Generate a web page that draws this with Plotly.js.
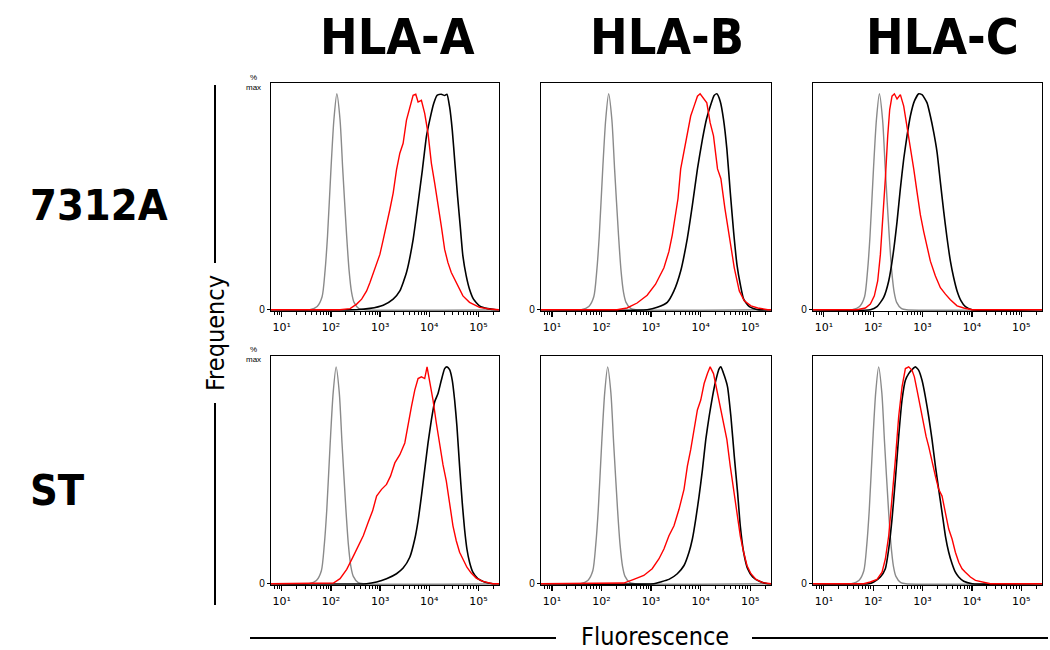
<!DOCTYPE html>
<html>
<head>
<meta charset="utf-8">
<script src="https://cdn.plot.ly/plotly-3.0.1.min.js"></script>
<style>html,body{margin:0;padding:0;background:#fff;}#chart{width:1050px;height:650px;}</style>
</head>
<body>
<div id="chart"></div>
<script>
// ---- labels ----
const columnTitles = ['HLA-A', 'HLA-B', 'HLA-C'];
const rowTitles = ['7312A', 'ST'];
const xTickValues = [1, 2, 3, 4, 5];
const xTickLabels = ['10\u00B9', '10\u00B2', '10\u00B3', '10\u2074', '10\u2075'];
const yAxisName = 'Frequency';
const xAxisName = 'Fluorescence';

// ---- data: x = log10 fluorescence, y = % of max ----
// Row 1 (7312A), HLA-A
const p1GrayX = [0.78, 1.57, 1.72, 1.82, 1.88, 1.93, 2.00, 2.06, 2.12, 2.185, 2.24, 2.32, 2.37, 2.42, 2.47, 2.57, 2.67, 5.42];
const p1GrayY = [0, 0, 1.5, 6, 18, 34, 65, 88, 100, 88, 65, 34, 18, 8, 3.4, 0.5, 0, 0];
const p1BlackX = [0.78, 2.523, 2.794, 3.064, 3.266, 3.402, 3.537, 3.672, 3.773, 3.861, 3.942, 4.01, 4.091, 4.159, 4.246, 4.314, 4.361, 4.415, 4.469, 4.523, 4.577, 4.631, 4.685, 4.753, 4.82, 4.901, 5.023, 5.192, 5.36, 5.42];
const p1BlackY = [0, 0, 0.6, 2.1, 4.9, 8.7, 17.2, 32.5, 49.4, 64.8, 80.1, 87.8, 95.5, 99.3, 99.8, 99.2, 99.8, 93.9, 83.2, 67.8, 52.5, 38.7, 24.9, 15.7, 9.5, 4.9, 1.8, 0.5, 0, 0];
const p1RedX = [0.78, 1.98, 2.185, 2.39, 2.523, 2.625, 2.726, 2.794, 2.861, 2.929, 2.996, 3.064, 3.131, 3.199, 3.266, 3.334, 3.402, 3.469, 3.537, 3.604, 3.672, 3.726, 3.773, 3.841, 3.908, 3.976, 4.044, 4.111, 4.179, 4.246, 4.314, 4.381, 4.449, 4.55, 4.618, 4.686, 4.82, 5.023, 5.226, 5.42];
const p1RedY = [0, 0, 0, 0.5, 2.6, 4.9, 8.7, 12.6, 17.2, 21.8, 25.6, 32.5, 38.7, 46.4, 54.0, 64.8, 72.5, 77.1, 87.8, 93.9, 99.3, 99.8, 96.2, 97.0, 90.9, 81.7, 67.8, 58.6, 49.4, 38.7, 27.9, 21.8, 17.2, 12.6, 9.5, 6.4, 3.4, 1.1, 0.3, 0];

// Row 1 (7312A), HLA-B
const p2GrayX = [0.78, 1.595, 1.745, 1.845, 1.905, 1.955, 2.025, 2.085, 2.145, 2.21, 2.265, 2.345, 2.395, 2.445, 2.495, 2.595, 2.695, 5.42];
const p2GrayY = [0, 0, 1.5, 6, 18, 34, 65, 88, 100, 88, 65, 34, 18, 8, 3.4, 0.5, 0, 0];
const p2BlackX = [0.78, 2.922, 3.125, 3.327, 3.462, 3.598, 3.733, 3.834, 3.936, 4.037, 4.118, 4.206, 4.273, 4.327, 4.395, 4.462, 4.53, 4.598, 4.665, 4.733, 4.8, 4.868, 4.983, 5.152, 5.42];
const p2BlackY = [0, 0, 1.1, 3.4, 8.7, 17.9, 33.2, 48.4, 65.2, 79.0, 88.2, 95.0, 99.2, 100, 96.6, 88.2, 74.4, 54.5, 36.2, 20.9, 11.8, 4.9, 1.4, 0, 0];
const p2RedX = [0.78, 2.314, 2.516, 2.719, 2.922, 3.091, 3.26, 3.361, 3.429, 3.497, 3.544, 3.598, 3.665, 3.733, 3.80, 3.868, 3.936, 3.99, 4.057, 4.125, 4.192, 4.26, 4.341, 4.409, 4.49, 4.577, 4.679, 4.78, 4.881, 5.016, 5.152, 5.354, 5.42];
const p2RedY = [0, 0, 0.8, 3.1, 6.7, 11.8, 19.4, 27.0, 34.7, 43.9, 51.5, 65.2, 72.9, 80.5, 89.7, 94.3, 98.9, 100, 98.1, 95.8, 86.6, 80.5, 65.2, 60.7, 46.9, 34.7, 19.4, 8.7, 4.1, 1.8, 0.8, 0, 0];

// Row 1 (7312A), HLA-C
const p3GrayX = [0.78, 1.575, 1.725, 1.825, 1.885, 1.935, 2.005, 2.065, 2.125, 2.19, 2.245, 2.325, 2.375, 2.425, 2.475, 2.575, 2.675, 5.42];
const p3GrayY = [0, 0, 1.5, 6, 18, 34, 65, 88, 100, 88, 65, 34, 18, 8, 3.4, 0.5, 0, 0];
const p3BlackX = [0.78, 1.942, 2.077, 2.212, 2.314, 2.402, 2.483, 2.55, 2.618, 2.685, 2.753, 2.834, 2.922, 2.989, 3.091, 3.158, 3.226, 3.294, 3.361, 3.429, 3.496, 3.564, 3.631, 3.699, 3.78, 3.868, 4.003, 5.42];
const p3BlackY = [0, 0, 1.4, 5.7, 13.3, 25.5, 40.8, 56.1, 69.8, 80.5, 89.7, 96.6, 100, 99.6, 95.8, 89.7, 82.1, 72.9, 59.1, 45.4, 33.2, 22.5, 14.8, 8.7, 4.1, 1.4, 0, 0];
const p3RedX = [0.78, 1.672, 1.841, 1.942, 2.023, 2.091, 2.145, 2.199, 2.246, 2.294, 2.334, 2.381, 2.429, 2.483, 2.55, 2.618, 2.686, 2.753, 2.821, 2.888, 2.956, 3.023, 3.091, 3.158, 3.26, 3.361, 3.463, 3.564, 3.699, 3.834, 4.003, 5.42];
const p3RedY = [0, 0, 0.8, 2.6, 6.4, 13.3, 25.5, 42.3, 60.7, 80.5, 92.7, 98.9, 100, 97.6, 99.6, 94.3, 85.1, 74.4, 65.2, 54.5, 43.9, 36.2, 28.6, 22.5, 15.6, 10.2, 7.2, 4.6, 1.8, 0.8, 0, 0];

// Row 2 (ST), HLA-A
const p4GrayX = [0.78, 1.555, 1.705, 1.805, 1.865, 1.915, 1.985, 2.045, 2.105, 2.17, 2.225, 2.305, 2.355, 2.405, 2.455, 2.555, 2.655, 5.42];
const p4GrayY = [0, 0, 1.5, 6, 18, 34, 65, 88, 100, 88, 65, 34, 18, 8, 3.4, 0.5, 0, 0];
const p4BlackX = [0.78, 2.726, 2.929, 3.131, 3.334, 3.469, 3.604, 3.706, 3.773, 3.841, 3.908, 3.976, 4.044, 4.111, 4.179, 4.246, 4.314, 4.361, 4.415, 4.469, 4.517, 4.564, 4.618, 4.672, 4.719, 4.767, 4.821, 4.888, 4.989, 5.124, 5.294, 5.42];
const p4BlackY = [0, 0, 0.8, 2.3, 4.6, 7.2, 12.2, 20.6, 29.0, 40.4, 52.6, 64.9, 75.5, 83.9, 87.7, 93.8, 99.2, 100, 98.7, 93.8, 84.7, 72.5, 54.2, 37.4, 25.2, 16.0, 9.9, 5.3, 2.3, 0.8, 0, 0];
const p4RedX = [0.78, 1.915, 2.05, 2.185, 2.321, 2.456, 2.557, 2.658, 2.76, 2.848, 2.929, 3.03, 3.131, 3.212, 3.3, 3.402, 3.503, 3.571, 3.638, 3.706, 3.773, 3.841, 3.908, 3.956, 4.01, 4.077, 4.145, 4.213, 4.28, 4.348, 4.415, 4.483, 4.55, 4.618, 4.685, 4.767, 4.854, 4.956, 5.091, 5.294, 5.42];
const p4RedY = [0, 0, 0.3, 2.3, 6.6, 12.7, 17.2, 22.1, 28.5, 33.6, 40.4, 43.5, 45.8, 49.6, 55.7, 59.5, 64.9, 74.0, 81.6, 89.3, 94.6, 95.4, 94.6, 100, 93.8, 84.7, 74.0, 63.3, 54.9, 47.3, 37.4, 26.7, 19.8, 14.5, 11.4, 7.6, 4.9, 2.6, 1.1, 0, 0];

// Row 2 (ST), HLA-B
const p5GrayX = [0.78, 1.575, 1.725, 1.825, 1.885, 1.935, 2.005, 2.065, 2.125, 2.19, 2.245, 2.325, 2.375, 2.425, 2.475, 2.575, 2.675, 5.42];
const p5GrayY = [0, 0, 1.5, 6, 18, 34, 65, 88, 100, 88, 65, 34, 18, 8, 3.4, 0.5, 0, 0];
const p5BlackX = [0.78, 3.057, 3.192, 3.361, 3.53, 3.665, 3.766, 3.834, 3.902, 3.969, 4.037, 4.104, 4.172, 4.239, 4.307, 4.375, 4.408, 4.476, 4.543, 4.611, 4.679, 4.746, 4.8, 4.868, 4.949, 5.05, 5.185, 5.354, 5.42];
const p5BlackY = [0, 0, 0.8, 2.0, 4.6, 8.4, 14.5, 20.6, 29.8, 40.4, 52.6, 66.4, 77.1, 86.2, 93.8, 99.2, 100, 96.1, 90.8, 77.1, 58.8, 42.0, 26.7, 14.5, 6.9, 3.1, 1.1, 0, 0];
const p5RedX = [0.78, 2.348, 2.449, 2.652, 2.854, 3.023, 3.158, 3.26, 3.361, 3.463, 3.564, 3.665, 3.733, 3.8, 3.868, 3.935, 4.003, 4.071, 4.138, 4.192, 4.26, 4.327, 4.395, 4.462, 4.53, 4.598, 4.665, 4.733, 4.8, 4.868, 4.935, 5.016, 5.118, 5.253, 5.388, 5.42];
const p5RedY = [0, 0, 0.3, 2.0, 3.8, 6.9, 11.4, 16.0, 22.1, 26.7, 34.3, 43.5, 54.2, 61.8, 71.0, 80.1, 84.7, 92.3, 96.9, 100, 96.9, 89.3, 81.6, 75.5, 66.4, 54.2, 43.5, 31.3, 22.1, 14.5, 8.4, 4.6, 2.0, 0.5, 0, 0];

// Row 2 (ST), HLA-C
const p6GrayX = [0.78, 1.56, 1.71, 1.81, 1.87, 1.92, 1.99, 2.05, 2.11, 2.175, 2.23, 2.31, 2.36, 2.41, 2.46, 2.56, 2.66, 5.42];
const p6GrayY = [0, 0, 1.5, 6, 18, 34, 65, 88, 100, 88, 65, 34, 18, 8, 3.4, 0.5, 0, 0];
const p6BlackX = [0.78, 1.908, 2.01, 2.145, 2.246, 2.314, 2.381, 2.449, 2.516, 2.584, 2.652, 2.719, 2.787, 2.854, 2.922, 2.989, 3.057, 3.124, 3.192, 3.26, 3.327, 3.395, 3.462, 3.53, 3.598, 3.665, 3.733, 3.834, 4.003, 5.42];
const p6BlackY = [0, 0, 0.8, 3.1, 6.9, 16.0, 29.8, 48.1, 67.9, 84.7, 93.8, 96.9, 98.7, 100, 98.4, 93.8, 86.2, 77.1, 66.4, 54.2, 43.5, 32.8, 22.1, 14.5, 9.2, 5.3, 3.1, 1.1, 0, 0];
const p6RedX = [0.78, 1.807, 1.942, 2.077, 2.179, 2.246, 2.314, 2.381, 2.449, 2.516, 2.584, 2.652, 2.719, 2.787, 2.834, 2.888, 2.956, 3.023, 3.071, 3.124, 3.192, 3.26, 3.327, 3.395, 3.462, 3.53, 3.598, 3.665, 3.733, 3.8, 3.868, 3.969, 4.071, 4.239, 4.375, 5.42];
const p6RedY = [0, 0, 0.8, 2.0, 5.3, 11.4, 22.1, 38.9, 57.2, 77.1, 90.8, 99.2, 100, 98.4, 95.4, 89.3, 81.6, 72.5, 67.9, 63.3, 55.7, 49.6, 43.5, 40.4, 32.8, 25.2, 20.6, 14.5, 9.9, 6.9, 5.3, 3.1, 1.5, 0.5, 0, 0];

// ---- build ----
const panels = [
  {gx: p1GrayX, gy: p1GrayY, bx: p1BlackX, by: p1BlackY, rx: p1RedX, ry: p1RedY},
  {gx: p2GrayX, gy: p2GrayY, bx: p2BlackX, by: p2BlackY, rx: p2RedX, ry: p2RedY},
  {gx: p3GrayX, gy: p3GrayY, bx: p3BlackX, by: p3BlackY, rx: p3RedX, ry: p3RedY},
  {gx: p4GrayX, gy: p4GrayY, bx: p4BlackX, by: p4BlackY, rx: p4RedX, ry: p4RedY},
  {gx: p5GrayX, gy: p5GrayY, bx: p5BlackX, by: p5BlackY, rx: p5RedX, ry: p5RedY},
  {gx: p6GrayX, gy: p6GrayY, bx: p6BlackX, by: p6BlackY, rx: p6RedX, ry: p6RedY}
];

const W = 1050, H = 650;
const colPx = [[271, 499], [541, 771], [813, 1042]];
const rowPx = [[83, 311], [356, 585]];
const X_RANGE = [0.78, 5.42];
const Y_RANGE = [-0.6, 105];

const minorTicks = [];
for (let d = 0; d <= 5; d++) {
  for (let k = 2; k <= 9; k++) {
    const v = d + Math.log10(k);
    if (v > X_RANGE[0] && v < X_RANGE[1]) minorTicks.push(v);
  }
}

const traces = [];
const layout = {
  width: W, height: H,
  margin: {l: 0, r: 0, t: 0, b: 0},
  paper_bgcolor: '#fff', plot_bgcolor: '#fff',
  showlegend: false,
  font: {family: 'Liberation Sans, Arial, sans-serif', color: '#000'},
  annotations: [], shapes: []
};

panels.forEach((p, i) => {
  const n = i + 1;
  const row = Math.floor(i / 3), col = i % 3;
  const xa = 'x' + (n === 1 ? '' : n), ya = 'y' + (n === 1 ? '' : n);
  const common = {xaxis: xa, yaxis: ya, mode: 'lines', hoverinfo: 'skip', showlegend: false};
  traces.push(Object.assign({x: p.gx, y: p.gy, line: {color: '#8a8a8a', width: 1.4, shape: 'spline', smoothing: 0.7}}, common));
  traces.push(Object.assign({x: p.bx, y: p.by, line: {color: '#000000', width: 1.6, shape: 'spline', smoothing: 0.5}}, common));
  traces.push(Object.assign({x: p.rx, y: p.ry, line: {color: '#ff0000', width: 1.4}}, common));

  const xd = [colPx[col][0] / W, colPx[col][1] / W];
  const yd = [1 - rowPx[row][1] / H, 1 - rowPx[row][0] / H];
  layout['xaxis' + (n === 1 ? '' : n)] = {
    domain: xd, anchor: ya, range: X_RANGE, fixedrange: true,
    showline: true, mirror: true, linecolor: '#000', linewidth: 1.3,
    showgrid: false, zeroline: false,
    ticks: 'outside', ticklen: 5, tickwidth: 1.2, tickcolor: '#000',
    tickmode: 'array', tickvals: xTickValues, ticktext: xTickLabels,
    tickfont: {family: 'DejaVu Sans, Liberation Sans, sans-serif', size: 11, color: '#000'},
    minor: {tickmode: 'array', tickvals: minorTicks, ticks: 'outside', ticklen: 3, tickwidth: 1, tickcolor: '#000'}
  };
  layout['yaxis' + (n === 1 ? '' : n)] = {
    domain: yd, anchor: xa, range: Y_RANGE, fixedrange: true,
    showline: true, mirror: true, linecolor: '#000', linewidth: 1.3,
    showgrid: false, zeroline: false,
    ticks: 'outside', ticklen: 3, tickwidth: 1, tickcolor: '#000',
    tickmode: 'array', tickvals: [0], ticktext: ['0'],
    tickfont: {family: 'Liberation Sans, Arial, sans-serif', size: 10, color: '#000'}
  };
  if (col === 0) {
    layout.annotations.push({
      xref: 'paper', yref: 'paper', x: 263 / W, y: 1 - (rowPx[row][0] - 1) / H,
      xanchor: 'right', yanchor: 'middle', showarrow: false,
      text: '%<br>max', align: 'center',
      font: {family: 'Liberation Sans, Arial, sans-serif', size: 8, color: '#000'}
    });
  }
});

const headFont = {family: 'DejaVu Sans Condensed, DejaVu Sans, sans-serif', size: 50, color: '#000', weight: 700};
const headX = [397, 667, 942];
columnTitles.forEach((t, i) => {
  layout.annotations.push({xref: 'paper', yref: 'paper', x: headX[i] / W, y: 1 - 37 / H,
    xanchor: 'center', yanchor: 'middle', showarrow: false, text: t, font: headFont});
});
const rowY = [205, 490];
rowTitles.forEach((t, i) => {
  layout.annotations.push({xref: 'paper', yref: 'paper', x: 28 / W, y: 1 - rowY[i] / H,
    xanchor: 'left', yanchor: 'middle', showarrow: false, text: t,
    font: {family: 'DejaVu Sans Condensed, DejaVu Sans, sans-serif', size: 43, color: '#000', weight: 700}});
});
const axFont = {family: 'DejaVu Sans Condensed, DejaVu Sans, sans-serif', size: 25, color: '#000'};
layout.annotations.push({xref: 'paper', yref: 'paper', x: 215 / W, y: 1 - 333 / H,
  xanchor: 'center', yanchor: 'middle', textangle: -90, showarrow: false, text: yAxisName, font: axFont});
layout.annotations.push({xref: 'paper', yref: 'paper', x: 655 / W, y: 1 - 636 / H,
  xanchor: 'center', yanchor: 'middle', showarrow: false, text: xAxisName, font: axFont});

const lineStyle = {color: '#000', width: 2};
layout.shapes.push({type: 'line', xref: 'paper', yref: 'paper', x0: 215 / W, x1: 215 / W, y0: 1 - 85 / H, y1: 1 - 263 / H, line: lineStyle});
layout.shapes.push({type: 'line', xref: 'paper', yref: 'paper', x0: 215 / W, x1: 215 / W, y0: 1 - 403 / H, y1: 1 - 605 / H, line: lineStyle});
layout.shapes.push({type: 'line', xref: 'paper', yref: 'paper', x0: 250 / W, x1: 556 / W, y0: 1 - 638 / H, y1: 1 - 638 / H, line: lineStyle});
layout.shapes.push({type: 'line', xref: 'paper', yref: 'paper', x0: 752 / W, x1: 1048 / W, y0: 1 - 638 / H, y1: 1 - 638 / H, line: lineStyle});

Plotly.newPlot('chart', traces, layout, {staticPlot: true, displayModeBar: false});
</script>
</body>
</html>
